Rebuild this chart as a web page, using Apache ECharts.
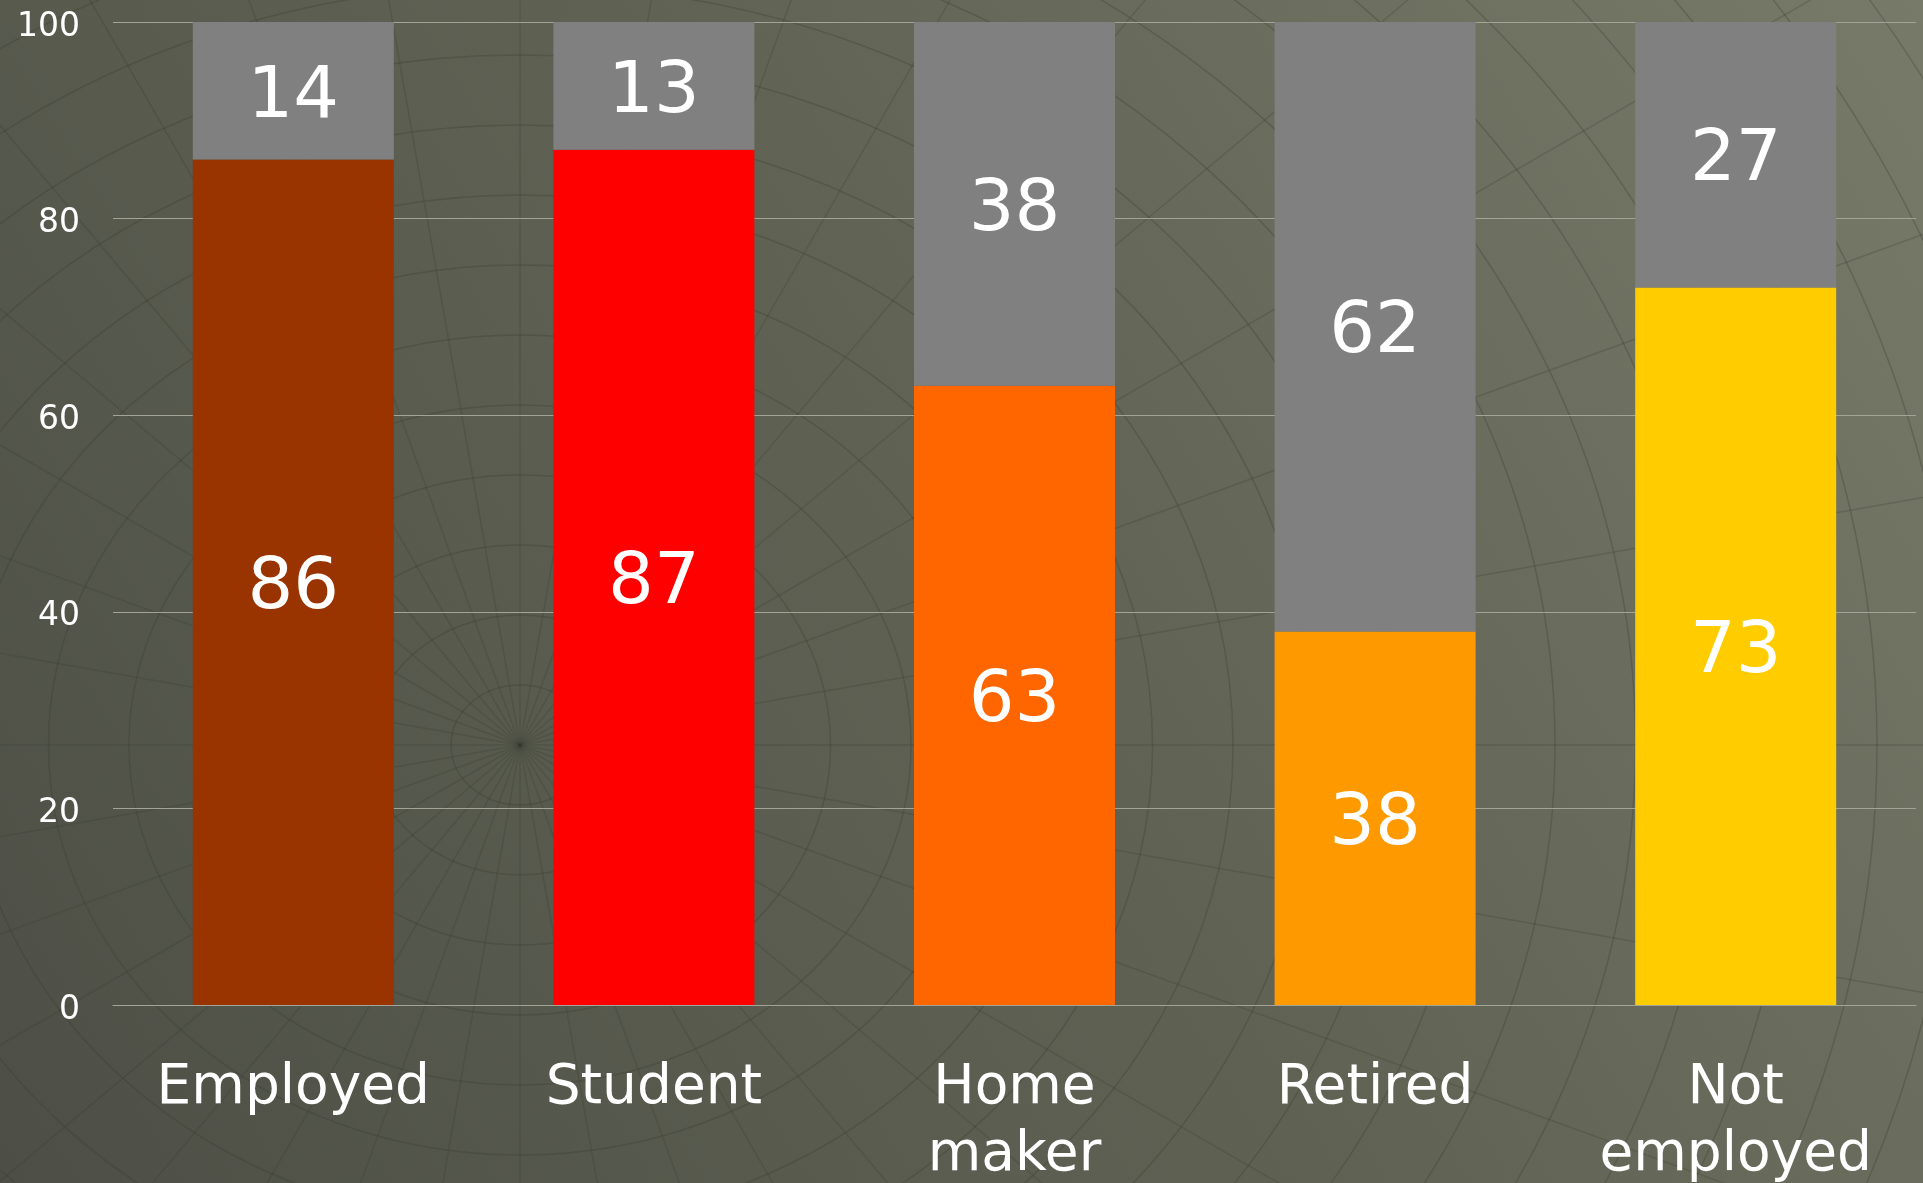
<!DOCTYPE html>
<html>
<head>
<meta charset="utf-8">
<script src="https://cdn.jsdelivr.net/npm/echarts@6/dist/echarts.min.js"></script>
<style>
  html,body{margin:0;padding:0;}
  #b{width:1923px;height:1183px;}
</style>
</head>
<body>
<div id="b"></div>
<script>
// categories and values
var cats = ['Employed', 'Student', 'Home\nmaker', 'Retired', 'Not\nemployed'];
var yes = [86, 87, 63, 38, 73];
var no = [14, 13, 38, 62, 27];
var colors = ['#993300', '#ff0000', '#ff6600', '#ff9900', '#ffcc00'];
var yTicks = [0, 20, 40, 60, 80, 100];

function one(){
    var myChart = echarts.init(document.getElementById('b'));
    var font = 'DejaVu Sans, Verdana, sans-serif';

    // faint globe-like pattern in the background
    var deco = [];
    var cx = 520, cy = 745;
    for (var r = 60; r < 1400; r += 70) {
        deco.push({
            type: 'ellipse', silent: true, z: -10,
            shape: {cx: cx, cy: cy, rx: r * 1.15, ry: r},
            style: {fill: null, stroke: 'rgba(55,58,48,0.3)', lineWidth: 1.5}
        });
    }
    for (var k = 0; k < 36; k++) {
        var a = k * Math.PI / 18;
        deco.push({
            type: 'line', silent: true, z: -10,
            shape: {x1: cx, y1: cy, x2: cx + Math.cos(a) * 1500, y2: cy + Math.sin(a) * 1500},
            style: {stroke: 'rgba(55,58,48,0.25)', lineWidth: 1.5}
        });
    }

    var option = {
        backgroundColor: {
            type: 'linear', x: 0, y: 1, x2: 1, y2: 0,
            colorStops: [
                {offset: 0, color: '#4d4f46'},
                {offset: 0.5, color: '#5f6253'},
                {offset: 1, color: '#777a68'}
            ]
        },
        graphic: deco,
        grid: {left: 113, right: 7, top: 22, bottom: 178, outerBoundsMode: 'none', containLabel: false},
        xAxis: {
            type: 'category',
            data: cats,
            axisLine: {show: true, lineStyle: {color: '#a3a496', width: 1}},
            axisTick: {show: false},
            axisLabel: {
                color: '#ffffff', fontSize: 55, lineHeight: 67,
                fontFamily: font, margin: 50, interval: 0
            }
        },
        yAxis: {
            type: 'value',
            min: yTicks[0], max: yTicks[yTicks.length - 1], interval: 20,
            axisLine: {show: false},
            axisTick: {show: false},
            axisLabel: {
                margin: 33,
                formatter: '{a|{value}}',
                rich: {a: {color: '#ffffff', fontSize: 33, fontFamily: font, padding: [10, 0, 0, 0]}}
            },
            splitLine: {lineStyle: {color: '#a3a496', width: 1}}
        },
        series: [
            {
                name: 'yes',
                type: 'bar',
                stack: 'a',
                barWidth: 201,
                data: yes.map(function(v, i){ return {value: v, itemStyle: {color: colors[i]}}; }),
                label: {show: true, position: 'inside', offset: [0, 7], color: '#ffffff', fontSize: 72, fontFamily: font}
            },
            {
                name: 'no',
                type: 'bar',
                stack: 'a',
                barWidth: 201,
                itemStyle: {color: '#808080'},
                data: no,
                label: {show: true, position: 'inside', offset: [0, 7], color: '#ffffff', fontSize: 72, fontFamily: font}
            }
        ]
    };
    option && myChart.setOption(option);
}
one();
</script>
</body>
</html>
